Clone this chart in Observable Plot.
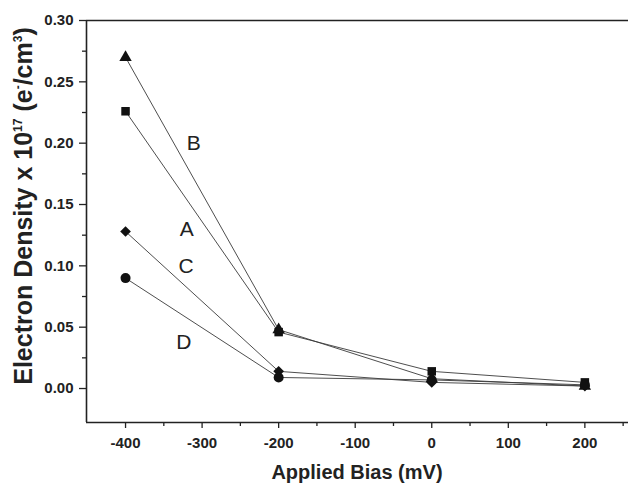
<!DOCTYPE html>
<html><head><meta charset="utf-8">
<script src="https://cdn.jsdelivr.net/npm/d3@7"></script>
<script src="https://cdn.jsdelivr.net/npm/@observablehq/plot@0.6"></script>
<style>body{margin:0;background:#fff} #chart svg{font-family:"Liberation Sans",Arial,sans-serif;}</style>
</head><body><div id="chart"></div>
<script>
// Data
const bias = [-400, -200, 0, 200];
const seriesNames = ["A", "B", "C", "D"];
const seriesSymbols = ["square", "triangle", "diamond2", "circle"];
const valuesA = [0.226, 0.046, 0.014, 0.005];
const valuesB = [0.270, 0.048, 0.008, 0.002];
const valuesC = [0.128, 0.014, 0.005, 0.002];
const valuesD = [0.090, 0.009, 0.007, 0.003];
const labelBias = [-320, -311, -321, -324];
const labelValue = [0.130, 0.200, 0.100, 0.038];
const xMajorTicks = [-400, -300, -200, -100, 0, 100, 200];
const xMinorTicks = [-350, -250, -150, -50, 50, 150, 250];
const yMajorTicks = [0, 0.05, 0.10, 0.15, 0.20, 0.25, 0.30];
const yMinorTicks = [0.025, 0.075, 0.125, 0.175, 0.225, 0.275];
const xTickLabels = ["-400", "-300", "-200", "-100", "0", "100", "200"];
const yTickLabels = ["0.00", "0.05", "0.10", "0.15", "0.20", "0.25", "0.30"];

const allValues = [valuesA, valuesB, valuesC, valuesD];
const rows = [];
seriesNames.forEach((s, i) => bias.forEach((b, j) => rows.push({series: s, bias: b, value: allValues[i][j], symbol: seriesSymbols[i]})));
const labels = seriesNames.map((s, i) => ({name: s, bias: labelBias[i], value: labelValue[i]}));
const xTicks = xMajorTicks.map((v, i) => ({v, t: xTickLabels[i]}));
const yTicks = yMajorTicks.map((v, i) => ({v, t: yTickLabels[i]}));

const xDom = [-451, 257];
const yDom = [-0.0277, 0.30];
const symSize = {square: 4.8, triangle: 4.6, diamond2: 4.8, circle: 5};

const chart = Plot.plot({
  width: 628, height: 485,
  marginLeft: 86, marginRight: 0, marginTop: 20, marginBottom: 63,
  style: {fontFamily: '"Liberation Sans", Arial, sans-serif', background: "#fff", color: "#222"},
  x: {domain: xDom},
  y: {domain: yDom},
  marks: [
    Plot.axisX({ticks: xMajorTicks, tickSize: 6, tickFormat: () => "", label: null, strokeWidth: 1.3}),
    Plot.axisX({ticks: xMinorTicks, tickSize: 4, tickFormat: () => "", label: null, strokeWidth: 1.3}),
    Plot.axisY({ticks: yMajorTicks, tickSize: 7, tickFormat: () => "", label: null, strokeWidth: 1.3}),
    Plot.axisY({ticks: yMinorTicks, tickSize: 4, tickFormat: () => "", label: null, strokeWidth: 1.3}),
    Plot.text(xTicks, {x: "v", y: yDom[0], dy: 21, text: "t", fontSize: 15, fontWeight: "bold", fill: "#222"}),
    Plot.text(yTicks, {x: xDom[0], y: "v", dx: -13, text: "t", textAnchor: "end", fontSize: 15, fontWeight: "bold", fill: "#222"}),
    Plot.ruleY([yDom[0]], {stroke: "#222", strokeWidth: 1.6}),
    Plot.ruleY([yDom[1]], {stroke: "#222", strokeWidth: 1.6}),
    Plot.ruleX([xDom[0]], {stroke: "#222", strokeWidth: 1.6}),
    Plot.line(rows, {x: "bias", y: "value", z: "series", stroke: "#3a3a3a", strokeWidth: 0.9}),
    ...seriesSymbols.map(sym => Plot.dot(rows.filter(d => d.symbol === sym), {x: "bias", y: "value", symbol: "symbol", fill: "#111", stroke: "none", r: symSize[sym]})),
    Plot.text(labels, {x: "bias", y: "value", text: "name", fontSize: 21, fill: "#222"})
  ]
});

const svg = d3.select(chart);
svg.append("text")
  .attr("x", 357).attr("y", 479)
  .attr("text-anchor", "middle")
  .style("font-size", "20px").attr("font-weight", "bold").attr("fill", "#222")
  .text("Applied Bias (mV)");
const yl = svg.append("text")
  .attr("transform", "translate(32,206) rotate(-90)")
  .attr("text-anchor", "middle")
  .style("font-size", "25px").attr("font-weight", "bold").attr("fill", "#222");
yl.append("tspan").text("Electron Density x 10");
yl.append("tspan").style("font-size", "12px").attr("dy", -10).text("17");
yl.append("tspan").attr("dy", 10).text(" (e");
yl.append("tspan").style("font-size", "12px").attr("dy", -10).text("-");
yl.append("tspan").attr("dy", 10).text("/cm");
yl.append("tspan").style("font-size", "12px").attr("dy", -10).text("3");
yl.append("tspan").attr("dy", 10).text(")");

document.getElementById("chart").appendChild(chart);
</script>
</body></html>
